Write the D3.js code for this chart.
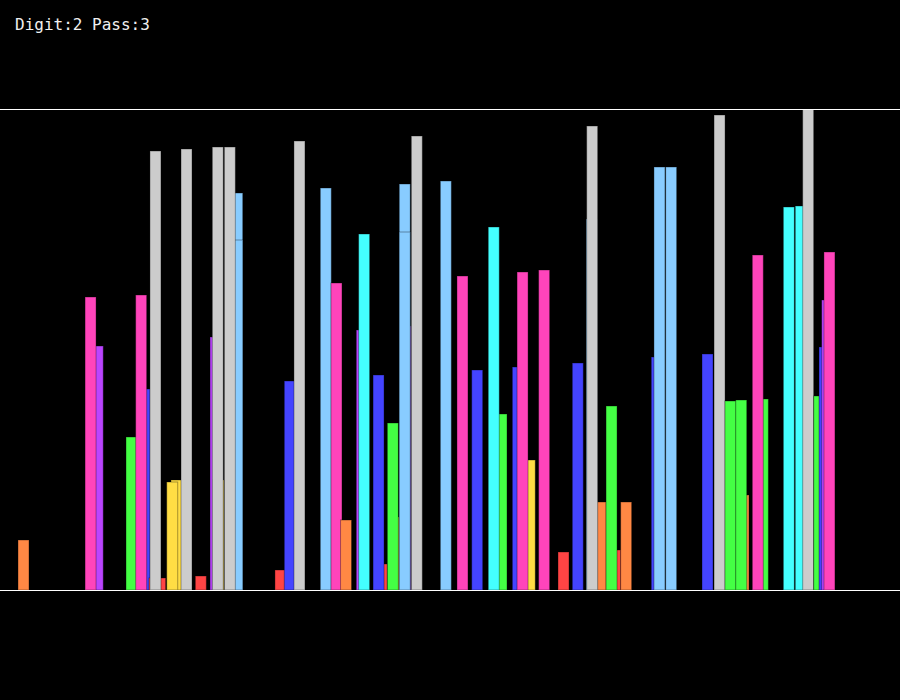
<!DOCTYPE html>
<html>
<head>
<meta charset="utf-8">
<script src="https://cdn.jsdelivr.net/npm/d3@7"></script>
<style>
  html, body { margin: 0; padding: 0; background: #000; }
  svg { display: block; }
</style>
</head>
<body>
<div id="chart"></div>
<script>
// Title text
const digit = 2;
const pass = 3;

// Bars in draw order (back to front): slot position, value, colour key
const positions = [
  1.60, 8.20, 7.56, 11.20, 12.36, 13.24, 12.06, 13.75, 13.33, 15.20,
  14.82, 16.09, 17.36, 18.67, 18.93, 20.60, 20.60, 18.87, 19.94, 24.44,
  25.27, 26.13, 28.47, 29.42, 30.27, 31.67, 31.88, 33.45, 33.16, 34.49,
  34.43, 35.58, 35.49, 35.49, 36.56, 39.14, 40.62, 41.93, 44.09, 43.40,
  45.54, 46.60, 45.96, 47.88, 49.60, 50.87, 52.89, 52.10, 52.15, 54.20,
  53.87, 55.17, 57.89, 58.13, 59.17, 62.40, 63.47, 64.44, 65.60, 65.40,
  67.32, 66.87, 69.63, 70.69, 71.35, 72.33, 72.80, 73.04, 73.24
];
const values = [
  50, 244, 293, 153, 201, 12, 295, 12, 439, 110,
  108, 441, 14, 253, 110, 397, 350, 443, 443, 20,
  209, 449, 402, 307, 70, 260, 356, 26, 215, 73,
  167, 264, 406, 358, 454, 409, 314, 220, 176, 363,
  223, 130, 318, 320, 38, 227, 88, 371, 464, 40,
  184, 88, 233, 423, 423, 236, 475, 189, 95, 190,
  191, 335, 383, 384, 481, 194, 243, 290, 338
];
const keys = [
  "orange", "purple", "pink", "green", "blue", "red", "pink", "red", "gray", "yellow",
  "yellow", "gray", "red", "purple", "yellow", "lightblue", "lightblue", "gray", "gray", "red",
  "blue", "gray", "lightblue", "pink", "orange", "purple", "cyan", "red", "blue", "yellow",
  "green", "purple", "lightblue", "lightblue", "gray", "lightblue", "pink", "blue", "green", "cyan",
  "blue", "yellow", "pink", "pink", "red", "blue", "orange", "lightblue", "gray", "red",
  "green", "orange", "blue", "lightblue", "lightblue", "blue", "gray", "green", "orange", "green",
  "green", "pink", "cyan", "cyan", "gray", "green", "blue", "purple", "pink"
];
const colorKeys = ["orange", "pink", "purple", "green", "blue", "gray", "yellow", "red", "lightblue", "cyan"];
const colorValues = ["#ff8844", "#ff44bb", "#bb44ff", "#44ff44", "#4444ff", "#cccccc", "#ffdd44", "#ff4444", "#88ccff", "#44ffff"];

const bars = positions.map((p, i) => ({ pos: p, value: values[i], key: keys[i] }));

const width = 900;
const height = 700;
const plotTop = 109;
const plotBottom = 590;

const svg = d3.select("#chart")
  .append("svg")
  .attr("width", width)
  .attr("height", height)
  .style("background", "#000");

const xScale = d3.scaleLinear().domain([0, 80]).range([0, width]);
const yScale = d3.scaleLinear().domain([0, 481]).range([plotBottom, plotTop]);
const color = d3.scaleOrdinal().domain(colorKeys).range(colorValues);
const barW = xScale(1) - xScale(0) - 0.25;

// bars
svg.selectAll(".bar")
  .data(bars)
  .enter()
  .append("rect")
  .attr("class", "bar")
  .attr("x", d => xScale(d.pos))
  .attr("y", d => yScale(d.value))
  .attr("width", barW)
  .attr("height", d => plotBottom - yScale(d.value))
  .attr("fill", d => color(d.key))
  .attr("stroke", "rgba(0,0,0,0.35)")
  .attr("stroke-width", 1);

// frame lines
svg.append("line")
  .attr("x1", 0).attr("x2", width)
  .attr("y1", plotTop + 0.5).attr("y2", plotTop + 0.5)
  .attr("stroke", "#fff").attr("stroke-width", 1);
svg.append("line")
  .attr("x1", 0).attr("x2", width)
  .attr("y1", plotBottom + 0.5).attr("y2", plotBottom + 0.5)
  .attr("stroke", "#fff").attr("stroke-width", 1);

// title
svg.append("text")
  .attr("x", 15)
  .attr("y", 30)
  .attr("fill", "#f0f0f0")
  .style("font-family", "'DejaVu Sans Mono', monospace")
  .style("font-size", "16px")
  .text(`Digit:${digit} Pass:${pass}`);
</script>
</body>
</html>
